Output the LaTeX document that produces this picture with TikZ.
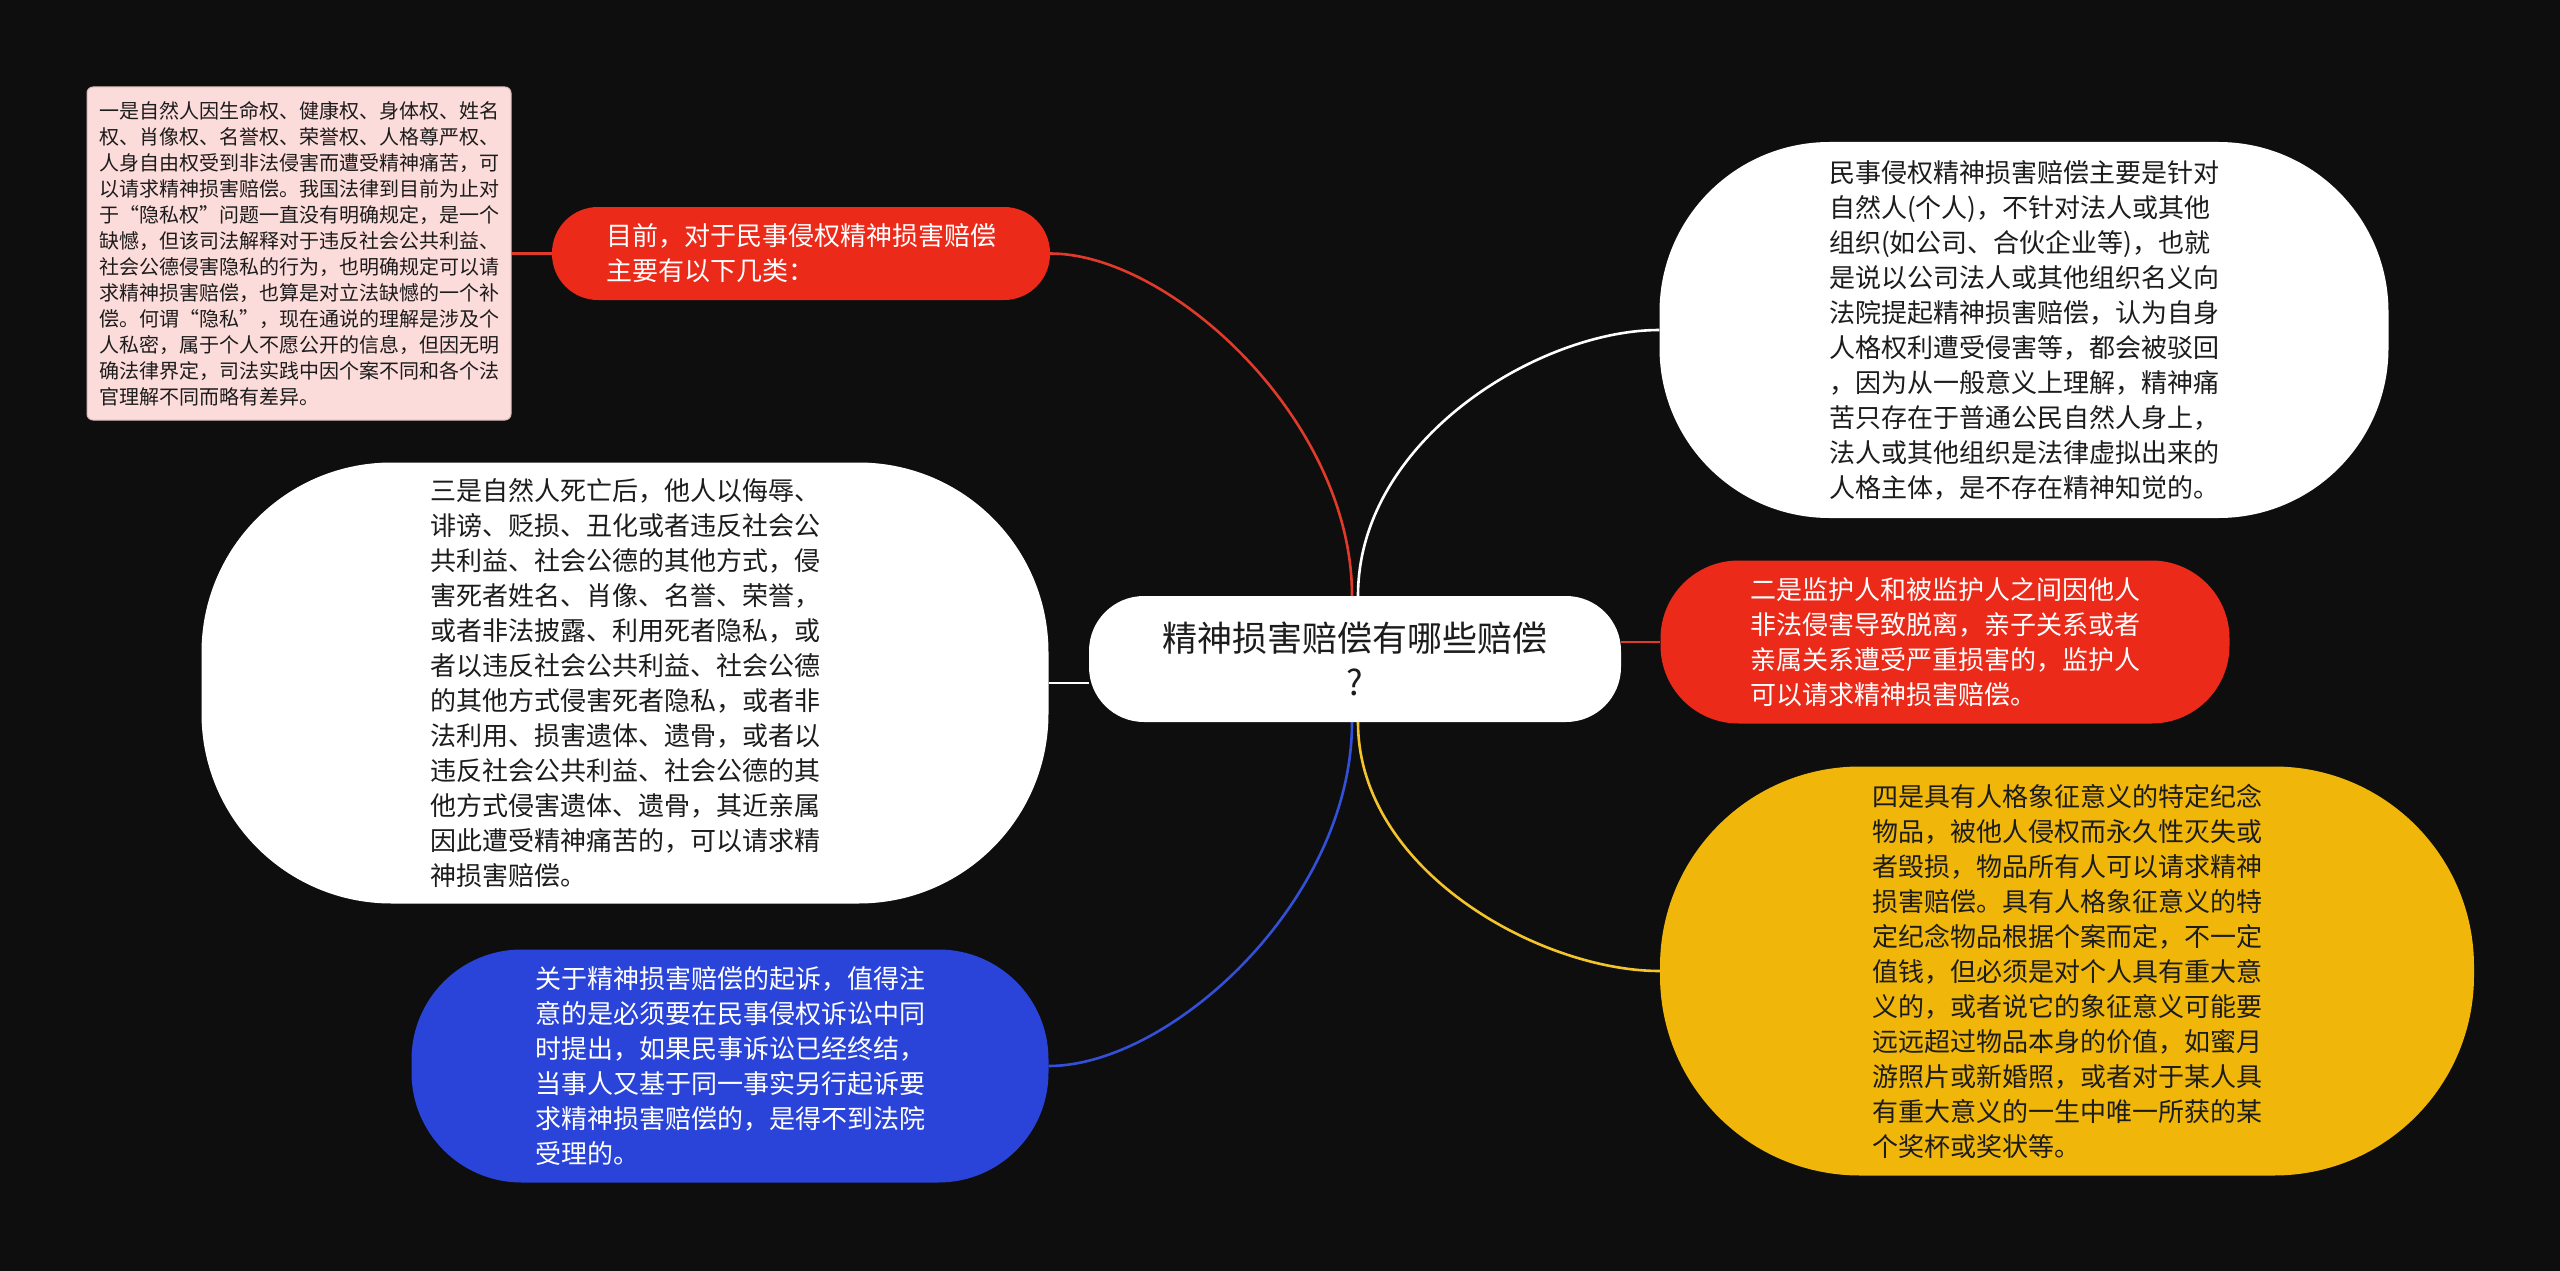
\documentclass[tikz,border=0pt]{standalone}
\usepackage{fontspec}
\newfontfamily\cjk{Noto Sans CJK SC}
\usetikzlibrary{calc,backgrounds}
\definecolor{bgc}{HTML}{0E0E0E}
\definecolor{nred}{HTML}{EC2A1A}
\definecolor{nblue}{HTML}{2A44DA}
\definecolor{nyellow}{HTML}{F0B70A}
\definecolor{npink}{HTML}{FCDCDA}
\definecolor{lred}{HTML}{E03A2A}
\definecolor{lblue}{HTML}{3350D8}
\definecolor{lyellow}{HTML}{F5C42C}
\definecolor{dtext}{HTML}{1C1C1C}
\begin{document}
\begin{tikzpicture}[x=1pt,y=-1pt,
  body/.style={inner sep=0pt, align=left, font=\cjk\fontsize{26pt}{35pt}\selectfont},
  whitebox/.style={body, fill=white, text=dtext},
  redbox/.style={body, fill=nred, text=white},
  bluebox/.style={body, fill=nblue, text=white},
  yellowbox/.style={body, fill=nyellow, text=dtext},
  notebox/.style={inner sep=0pt, align=left, fill=npink, draw=npink!85!black, line width=1pt,
     rounded corners=6pt, text=dtext, font=\cjk\fontsize{20pt}{26pt}\selectfont},
  conn/.style={line width=2.6pt}]
\useasboundingbox (0,0) rectangle (2560,1271);
\begin{pgfonlayer}{background}
\fill[bgc] (0,0) rectangle (2560,1271);
\end{pgfonlayer}

% central
\node[inner sep=0pt, align=center, fill=white, text=dtext, rounded corners=55pt,
  minimum width=532pt, minimum height=126pt,
  font=\cjk\fontsize{35pt}{44pt}\selectfont] (central) at (1355,659)
  {精神损害赔偿有哪些赔偿\\?};

% note box
\node[notebox, minimum width=424pt, minimum height=333pt] (note) at (299,253.5)
{一是自然人因生命权、健康权、身体权、姓名\\
权、肖像权、名誉权、荣誉权、人格尊严权、\\
人身自由权受到非法侵害而遭受精神痛苦，可\\
以请求精神损害赔偿。我国法律到目前为止对\\
于“隐私权”问题一直没有明确规定，是一个\\
缺憾，但该司法解释对于违反社会公共利益、\\
社会公德侵害隐私的行为，也明确规定可以请\\
求精神损害赔偿，也算是对立法缺憾的一个补\\
偿。何谓“隐私”，现在通说的理解是涉及个\\
人私密，属于个人不愿公开的信息，但因无明\\
确法律界定，司法实践中因个案不同和各个法\\
官理解不同而略有差异。};

% red top
\node[redbox, rounded corners=46pt, minimum width=498pt, minimum height=93pt] (redT) at (801,253.5)
{目前，对于民事侵权精神损害赔偿\\主要有以下几类：};

% left white
\node[whitebox, rounded corners=190pt, minimum width=847pt, minimum height=441pt] (leftW) at (625,683)
{三是自然人死亡后，他人以侮辱、\\
诽谤、贬损、丑化或者违反社会公\\
共利益、社会公德的其他方式，侵\\
害死者姓名、肖像、名誉、荣誉，\\
或者非法披露、利用死者隐私，或\\
者以违反社会公共利益、社会公德\\
的其他方式侵害死者隐私，或者非\\
法利用、损害遗体、遗骨，或者以\\
违反社会公共利益、社会公德的其\\
他方式侵害遗体、遗骨，其近亲属\\
因此遭受精神痛苦的，可以请求精\\
神损害赔偿。};

% blue
\node[bluebox, rounded corners=110pt, minimum width=637pt, minimum height=233pt] (blue) at (730,1066)
{关于精神损害赔偿的起诉，值得注\\
意的是必须要在民事侵权诉讼中同\\
时提出，如果民事诉讼已经终结，\\
当事人又基于同一事实另行起诉要\\
求精神损害赔偿的，是得不到法院\\
受理的。};

% right white
\node[whitebox, rounded corners=170pt, minimum width=729pt, minimum height=376pt] (rightW) at (2024,330)
{民事侵权精神损害赔偿主要是针对\\
自然人(个人)，不针对法人或其他\\
组织(如公司、合伙企业等)，也就\\
是说以公司法人或其他组织名义向\\
法院提起精神损害赔偿，认为自身\\
人格权利遭受侵害等，都会被驳回\\
，因为从一般意义上理解，精神痛\\
苦只存在于普通公民自然人身上，\\
法人或其他组织是法律虚拟出来的\\
人格主体，是不存在精神知觉的。};

% red right
\node[redbox, rounded corners=78pt, minimum width=569pt, minimum height=163pt] (redR) at (1945,642)
{二是监护人和被监护人之间因他人\\
非法侵害导致脱离，亲子关系或者\\
亲属关系遭受严重损害的，监护人\\
可以请求精神损害赔偿。};

% yellow
\node[yellowbox, rounded corners=200pt, minimum width=814pt, minimum height=409pt] (yellow) at (2067,971)
{四是具有人格象征意义的特定纪念\\
物品，被他人侵权而永久性灭失或\\
者毁损，物品所有人可以请求精神\\
损害赔偿。具有人格象征意义的特\\
定纪念物品根据个案而定，不一定\\
值钱，但必须是对个人具有重大意\\
义的，或者说它的象征意义可能要\\
远远超过物品本身的价值，如蜜月\\
游照片或新婚照，或者对于某人具\\
有重大意义的一生中唯一所获的某\\
个奖杯或奖状等。};

\begin{pgfonlayer}{background}
\draw[conn, lred] (redT.east) .. controls ($(redT.east)+(120,0)$) and ($(central.north)+(-3,-176)$) .. ($(central.north)+(-3,0)$);
\draw[conn, white] ($(central.north)+(3,0)$) .. controls ($(central.north)+(3,-156)$) and ($(rightW.west)+(-120,0)$) .. (rightW.west);
\draw[conn, lblue] ($(central.south)+(-3,0)$) .. controls ($(central.south)+(-3,178)$) and ($(blue.east)+(122,0)$) .. (blue.east);
\draw[conn, lyellow] ($(central.south)+(3,0)$) .. controls ($(central.south)+(3,148)$) and ($(yellow.west)+(-120,0)$) .. (yellow.west);
\draw[conn, lred] (redR.west) -- (redR.west -| central.east);
\draw[conn, white] (leftW.east) -- (leftW.east -| central.west);
\draw[conn, lred] (note.east) -- (redT.west);
\end{pgfonlayer}
\end{tikzpicture}
\end{document}
